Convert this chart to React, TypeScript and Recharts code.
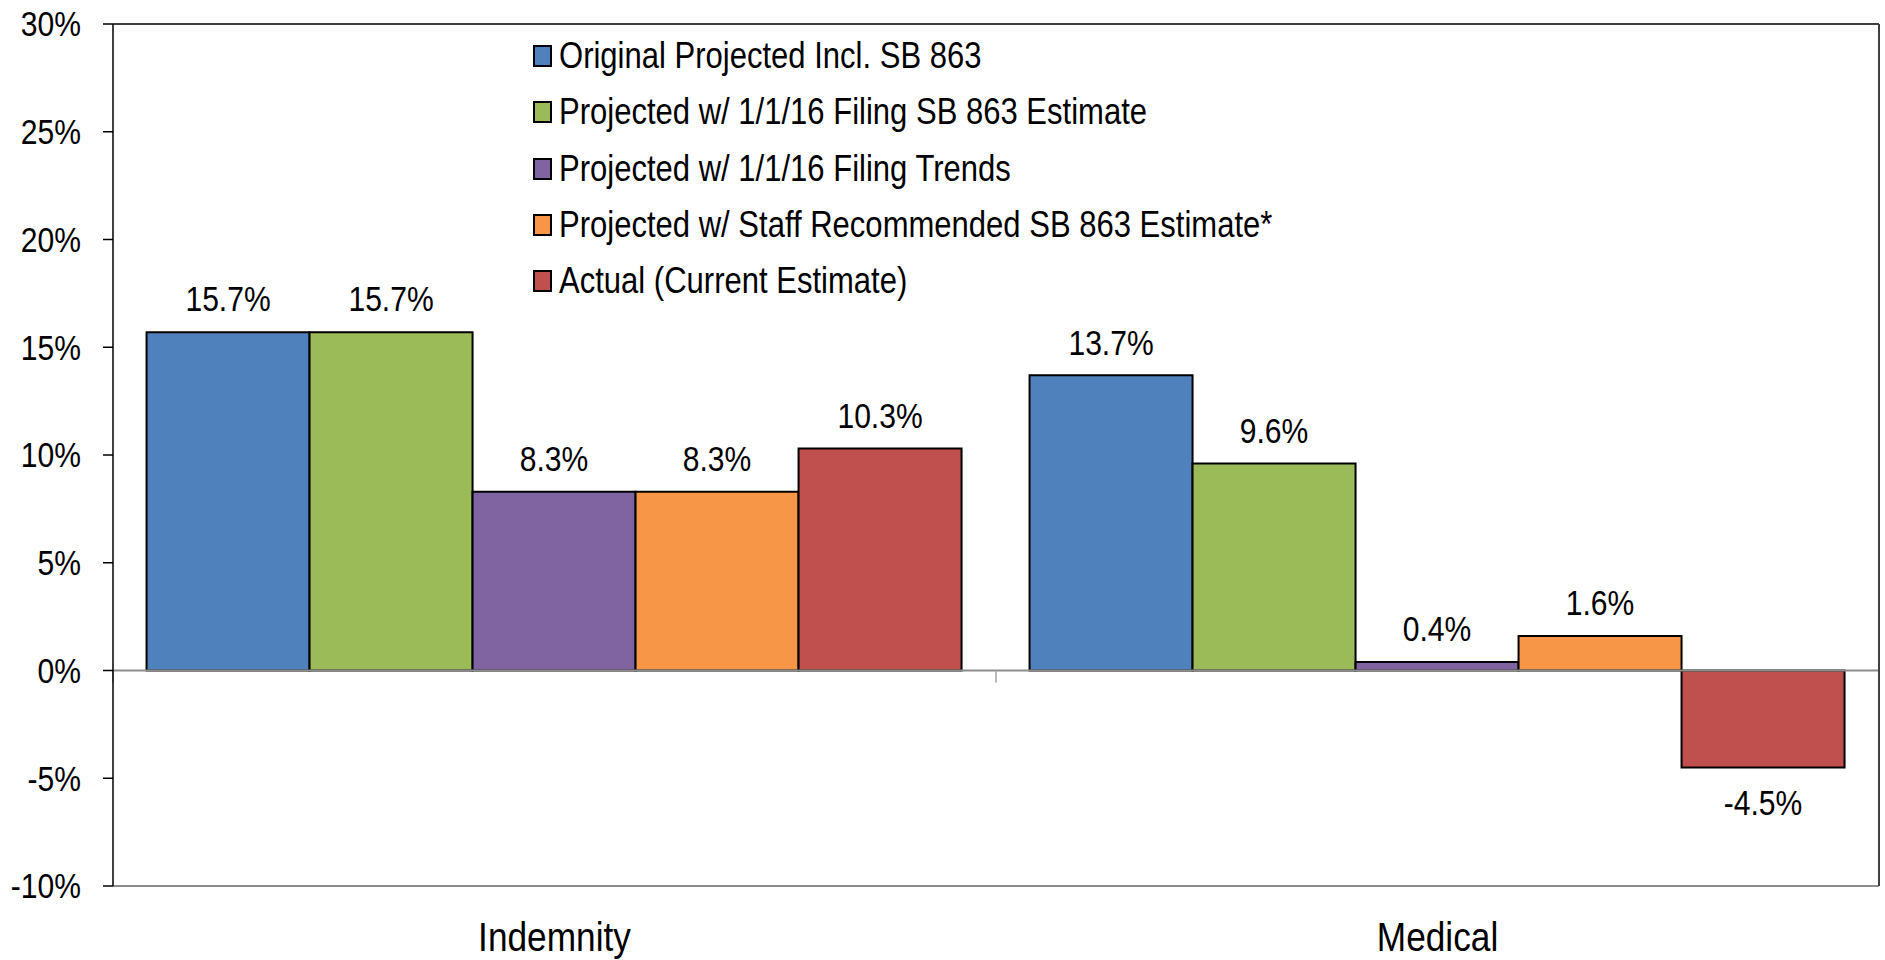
import React from "react";
import { BarChart, Bar, XAxis, YAxis, ReferenceLine, Legend } from "recharts";

const categories = ["Indemnity", "Medical"];
const seriesNames = [
  "Original Projected Incl. SB 863",
  "Projected w/ 1/1/16 Filing SB 863 Estimate",
  "Projected w/ 1/1/16 Filing Trends",
  "Projected w/ Staff Recommended SB 863 Estimate*",
  "Actual (Current Estimate)",
];
const originalProjected = [15.7, 13.7];
const filingSB863 = [15.7, 9.6];
const filingTrends = [8.3, 0.4];
const staffRecommended = [8.3, 1.6];
const actualCurrent = [10.3, -4.5];
const yTicks = [-10, -5, 0, 5, 10, 15, 20, 25, 30];
const colors = ["#4F81BD", "#9BBB59", "#8064A2", "#F79646", "#C0504D"];
const keys = ["s0", "s1", "s2", "s3", "s4"];
const seriesValues = [originalProjected, filingSB863, filingTrends, staffRecommended, actualCurrent];

const data = categories.map((c, i) => {
  const row: any = { name: c };
  keys.forEach((k, j) => (row[k] = seriesValues[j][i]));
  return row;
});

const FONT = "'Liberation Sans', Arial, sans-serif";
const SX = 0.86;

const NarrowText = ({ x, y, size, anchor, children }: any) => (
  <text
    transform={`translate(${x},${y}) scale(${SX},1)`}
    x={0}
    y={0}
    textAnchor={anchor}
    dominantBaseline="central"
    fontSize={size}
    fontFamily={FONT}
    fill="#000"
  >
    {children}
  </text>
);

const ValueLabel = (props: any) => {
  const { x, y, width, height, value } = props;
  const cx = x + width / 2;
  const neg = value < 0;
  const top = Math.min(y, y + height);
  const bottom = Math.max(y, y + height);
  const ty = neg ? bottom + 35 : top - 33;
  return (
    <NarrowText x={cx} y={ty} size={35} anchor="middle">
      {`${value.toFixed(1)}%`}
    </NarrowText>
  );
};

const ZeroLine = (p: any) => {
  const { x1, y1, x2, y2 } = p;
  const mid = (x1 + x2) / 2;
  return (
    <g>
      <line x1={x1} y1={y1} x2={x2} y2={y2} stroke="#8c8c8c" strokeWidth={2} />
      {[x1, mid, x2].map((xx: number, i: number) => (
        <line key={i} x1={xx} y1={y1} x2={xx} y2={y1 + 12} stroke="#a0a0a0" strokeWidth={1.5} />
      ))}
    </g>
  );
};

const CatTick = (props: any) => {
  const { x, y, payload } = props;
  return (
    <NarrowText x={x} y={y + 43} size={41} anchor="middle">
      {payload.value}
    </NarrowText>
  );
};

const YTick = (props: any) => {
  const { x, y, payload } = props;
  return (
    <NarrowText x={x} y={y} size={35} anchor="end">
      {`${payload.value}%`}
    </NarrowText>
  );
};

const LegendContent = () => (
  <div style={{ fontFamily: FONT, fontSize: 36.5, color: "#000" }}>
    {seriesNames.map((n, i) => (
      <div key={i} style={{ display: "flex", alignItems: "center", height: 56.3, whiteSpace: "nowrap" }}>
        <span
          style={{
            display: "inline-block",
            width: 15,
            height: 18,
            background: colors[i],
            border: "2px solid #000",
            marginRight: 7,
            flex: "none",
          }}
        />
        <span style={{ display: "inline-block", transform: `scaleX(0.85)`, transformOrigin: "left center" }}>{n}</span>
      </div>
    ))}
  </div>
);

export default function App() {
  return (
    <div style={{ position: "absolute", left: 0, top: 0, width: 1885, height: 960, background: "#fff" }}>
      <BarChart
        width={1885}
        height={960}
        data={data}
        margin={{ top: 24, right: 5, bottom: 24, left: 13 }}
        barCategoryGap="3.8%"
        barGap={0}
      >
        <XAxis dataKey="name" axisLine={false} tickLine={false} tick={<CatTick />} height={50} interval={0} />
        <YAxis
          domain={[-10, 30]}
          ticks={yTicks}
          width={100}
          tickSize={10}
          tickMargin={22}
          interval={0}
          axisLine={{ stroke: "#000", strokeWidth: 1.5 }}
          tickLine={{ stroke: "#000", strokeWidth: 1.5 }}
          tick={<YTick />}
        />
        <YAxis yAxisId="right" orientation="right" width={1} tick={false} tickLine={false} axisLine={{ stroke: "#404040", strokeWidth: 2 }} domain={[-10, 30]} />
        <ReferenceLine y={30} stroke="#404040" strokeWidth={2} />
        <ReferenceLine y={-10} stroke="#8c8c8c" strokeWidth={2} />
        <Legend
          layout="vertical"
          verticalAlign="middle"
          align="center"
          content={<LegendContent />}
          wrapperStyle={{ position: "absolute", left: 533, top: 28, width: "auto" }}
        />
        {keys.map((k, i) => (
          <Bar
            key={k}
            dataKey={k}
            name={seriesNames[i]}
            fill={colors[i]}
            stroke="#000"
            strokeWidth={2}
            isAnimationActive={false}
            label={<ValueLabel />}
          />
        ))}
        <ReferenceLine y={0} shape={<ZeroLine />} />
      </BarChart>
    </div>
  );
}
